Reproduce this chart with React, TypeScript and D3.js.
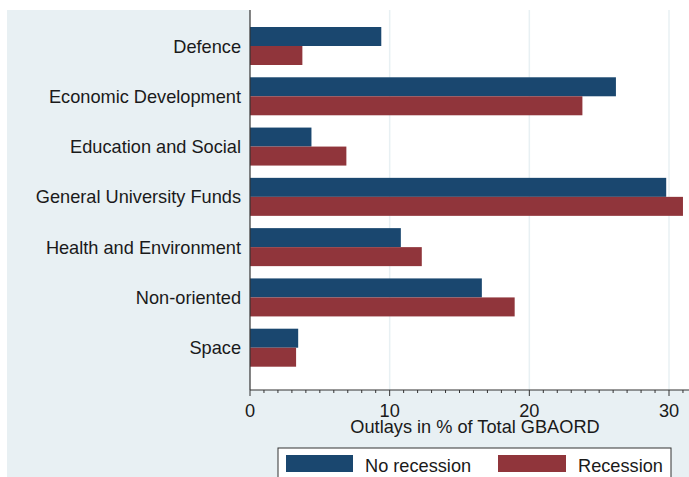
import React from "react";
import * as d3 from "d3";

const categories = [
  "Defence",
  "Economic Development",
  "Education and Social",
  "General University Funds",
  "Health and Environment",
  "Non-oriented",
  "Space",
];
const noRecession = [9.4, 26.2, 4.4, 29.8, 10.8, 16.6, 3.45];
const recession = [3.75, 23.8, 6.9, 31.0, 12.3, 18.95, 3.3];
const seriesNames = ["No recession", "Recession"];
const xTicks = [0, 10, 20, 30];
const minorTicks = d3.range(0, 32, 1);

const W = 689;
const H = 477;
const BLUE = "#1a476f";
const RED = "#90353b";
const BG = "#e8f0f3";
const FONT = "Liberation Sans, Arial, sans-serif";
const FS = 18.2;

export default function App() {
  const x = d3.scaleLinear().domain([0, 30]).range([250, 669]);
  const y = d3.scalePoint<string>().domain(categories).range([46, 347.7]);
  const barH = 19;
  const axisY = 390;

  return (
    <svg
      width={W}
      height={H}
      style={{ position: "absolute", left: 0, top: 0 }}
      fontFamily={FONT}
    >
      <rect x={0} y={0} width={W} height={H} fill="#ffffff" />
      <rect x={7} y={10} width={W - 7} height={H - 10} fill={BG} />
      <rect x={250} y={10} width={W - 250} height={axisY - 10} fill="#ffffff" />
      {xTicks
        .filter((t) => t > 0)
        .map((t) => (
          <line
            key={"g" + t}
            x1={x(t)}
            x2={x(t)}
            y1={10}
            y2={axisY}
            stroke={BG}
            strokeWidth={1.5}
          />
        ))}
      {categories.map((c, i) => (
        <g key={c}>
          <rect
            x={x(0)}
            y={(y(c) as number) - barH}
            width={x(noRecession[i]) - x(0)}
            height={barH}
            fill={BLUE}
          />
          <rect
            x={x(0)}
            y={y(c) as number}
            width={x(recession[i]) - x(0)}
            height={barH}
            fill={RED}
          />
          <text
            x={241}
            y={(y(c) as number) + 6.5}
            textAnchor="end"
            fontSize={FS}
            fill="#1a1a1a"
          >
            {c}
          </text>
        </g>
      ))}
      <line x1={250} x2={250} y1={10} y2={axisY} stroke="#333" strokeWidth={1.2} />
      <line x1={250} x2={W} y1={axisY} y2={axisY} stroke="#333" strokeWidth={1.2} />
      {minorTicks.map((t) => (
        <line
          key={"m" + t}
          x1={x(t)}
          x2={x(t)}
          y1={axisY}
          y2={axisY + (t % 10 === 0 ? 6 : 3)}
          stroke="#333"
          strokeWidth={1}
        />
      ))}
      {xTicks.map((t) => (
        <text
          key={"t" + t}
          x={x(t)}
          y={417}
          textAnchor="middle"
          fontSize={FS}
          fill="#1a1a1a"
        >
          {t}
        </text>
      ))}
      <text x={475} y={433} textAnchor="middle" fontSize={FS} fill="#1a1a1a">
        Outlays in % of Total GBAORD
      </text>
      <rect x={278} y={448} width={393} height={40} fill="#ffffff" stroke="#333" strokeWidth={1} />
      <rect x={286} y={455} width={67} height={17} fill={BLUE} />
      <text x={365} y={471.5} fontSize={FS} fill="#1a1a1a">
        {seriesNames[0]}
      </text>
      <rect x={498} y={455} width={68} height={17} fill={RED} />
      <text x={578} y={471.5} fontSize={FS} fill="#1a1a1a">
        {seriesNames[1]}
      </text>
    </svg>
  );
}
